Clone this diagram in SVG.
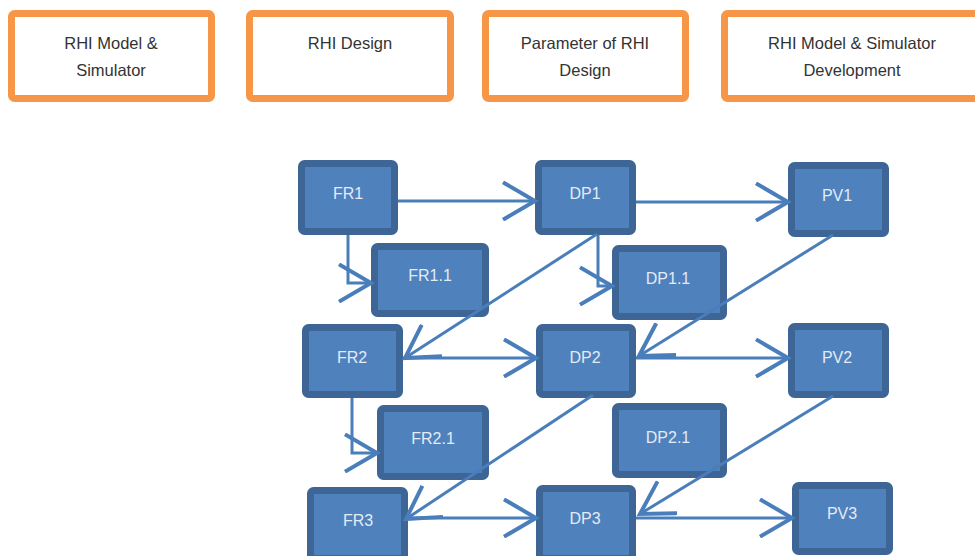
<svg xmlns="http://www.w3.org/2000/svg" width="975" height="556" viewBox="0 0 975 556">
<style>
.hdr rect{fill:#fff;stroke:#F79646;stroke-width:7}
.hdr text{font-family:"Liberation Sans",Arial,sans-serif;font-size:16.5px;fill:#333;text-anchor:middle}
.node rect{fill:#4F81BD;stroke:#3D6596;stroke-width:7}
.node text{font-family:"Liberation Sans",Arial,sans-serif;font-size:16px;fill:#E3EBF5;text-anchor:middle}
#connectors path{fill:none;stroke:#4A7EBB;stroke-width:3;marker-end:url(#arr)}
</style>
<defs>
<marker id="arr" markerUnits="userSpaceOnUse" markerWidth="40" markerHeight="40" refX="26" refY="15" orient="auto" viewBox="0 0 30 30">
<path d="M2,1 L26,15 L2,29" fill="none" stroke="#4A7EBB" stroke-width="3" stroke-linejoin="miter"/>
</marker>
</defs>
<rect width="975" height="556" fill="#fff"/>
<g id="h1" class="hdr"><rect x="11.5" y="13.5" width="200" height="85" rx="3"/><text x="111" y="49">RHI Model &amp;</text><text x="111" y="76">Simulator</text></g>
<g id="h2" class="hdr"><rect x="249.5" y="13.5" width="201" height="85" rx="3"/><text x="350" y="49">RHI Design</text></g>
<g id="h3" class="hdr"><rect x="485.5" y="13.5" width="200" height="85" rx="3"/><text x="585" y="49">Parameter of RHI</text><text x="585" y="76">Design</text></g>
<g id="h4" class="hdr"><rect x="724.5" y="13.5" width="280" height="85" rx="3"/><text x="852" y="49">RHI Model &amp; Simulator</text><text x="852" y="76">Development</text></g>

<g id="FR1" class="node"><rect x="301.5" y="163.5" width="93" height="68" rx="3"/><text x="348" y="199">FR1</text></g>
<g id="DP1" class="node"><rect x="538.5" y="163.5" width="94" height="68" rx="3"/><text x="585" y="199">DP1</text></g>
<g id="PV1" class="node"><rect x="791.5" y="165.5" width="94" height="68" rx="3"/><text x="837" y="201">PV1</text></g>
<g id="FR1.1" class="node"><rect x="374.5" y="246.5" width="111" height="67" rx="3"/><text x="430" y="281">FR1.1</text></g>
<g id="DP1.1" class="node"><rect x="615.5" y="248.5" width="108" height="68" rx="3"/><text x="668" y="284">DP1.1</text></g>
<g id="FR2" class="node"><rect x="305.5" y="327.5" width="94" height="67" rx="3"/><text x="352" y="363">FR2</text></g>
<g id="DP2" class="node"><rect x="539.5" y="327.5" width="93" height="67" rx="3"/><text x="585" y="363">DP2</text></g>
<g id="PV2" class="node"><rect x="791.5" y="326.5" width="94" height="68" rx="3"/><text x="837" y="363">PV2</text></g>
<g id="FR2.1" class="node"><rect x="380.5" y="408.5" width="105" height="68" rx="3"/><text x="433" y="444">FR2.1</text></g>
<g id="DP2.1" class="node"><rect x="615.5" y="406.5" width="108" height="68" rx="3"/><text x="668" y="443">DP2.1</text></g>
<g id="FR3" class="node"><rect x="310.5" y="490.5" width="94" height="68" rx="3"/><text x="358" y="526">FR3</text></g>
<g id="DP3" class="node"><rect x="539.5" y="488.5" width="93" height="70" rx="3"/><text x="585" y="524">DP3</text></g>
<g id="PV3" class="node"><rect x="795.5" y="485.5" width="94" height="66" rx="3"/><text x="842" y="519">PV3</text></g>

<g id="connectors">
<path d="M398,201 L535,201"/>
<path d="M636,202 L788,202"/>
<path d="M348,235 L348,283 L371,283"/>
<path d="M598,235 L598,286 L612,286"/>
<path d="M597,234 L405,358"/>
<path d="M403,358 L536,358"/>
<path d="M636,358 L788,358"/>
<path d="M833,235 L639,356"/>
<path d="M352,398 L352,453 L377,453"/>
<path d="M593,395 L406,519"/>
<path d="M833,396 L640,514"/>
<path d="M408,518 L536,518"/>
<path d="M636,518 L792,518"/>
</g>
</svg>
